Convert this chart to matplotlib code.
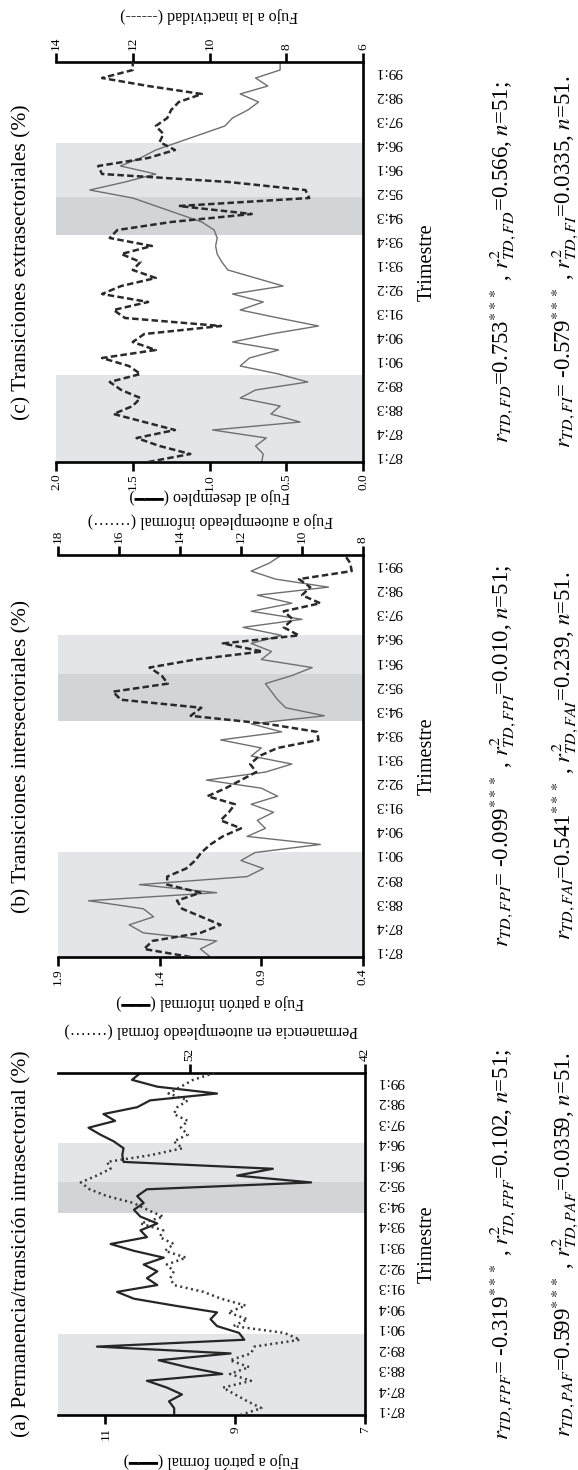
"""Three rotated panels: transiciones laborales por trimestre."""

import matplotlib

matplotlib.use("Agg")
import matplotlib.pyplot as plt
import numpy as np

plt.rcParams["font.family"] = ["Liberation Serif", "DejaVu Sans"]
plt.rcParams["mathtext.fontset"] = "stix"

W, H = 578, 1470

# 51 quarterly observations, 86:4 .. 99:2
quarters = [
    "86:4", "87:1", "87:2", "87:3", "87:4", "88:1", "88:2", "88:3", "88:4",
    "89:1", "89:2", "89:3", "89:4", "90:1", "90:2", "90:3", "90:4", "91:1",
    "91:2", "91:3", "91:4", "92:1", "92:2", "92:3", "92:4", "93:1", "93:2",
    "93:3", "93:4", "94:1", "94:2", "94:3", "94:4", "95:1", "95:2", "95:3",
    "95:4", "96:1", "96:2", "96:3", "96:4", "97:1", "97:2", "97:3", "97:4",
    "98:1", "98:2", "98:3", "98:4", "99:1", "99:2",
]
tick_labels = [
    "87:1", "87:4", "88:3", "89:2", "90:1", "90:4", "91:3", "92:2", "93:1",
    "93:4", "94:3", "95:2", "96:1", "96:4", "97:3", "98:2", "99:1",
]

# (a) permanencia / transicion intrasectorial
a_patron_formal = [
    9.94, 9.94, 10.02, 9.82, 10.05, 10.36, 9.20, 9.74, 10.18, 9.07, 11.13,
    8.86, 8.94, 9.28, 9.38, 9.28, 9.94, 10.56, 10.82, 10.20, 10.36, 10.20,
    10.41, 10.10, 10.56, 10.92, 10.36, 10.46, 10.20, 10.46, 10.56, 10.41,
    10.51, 10.36, 7.83, 8.97, 8.42, 10.72, 10.74, 10.72, 10.87, 11.08, 11.26,
    10.85, 11.03, 10.51, 10.31, 9.28, 10.20, 10.59, 10.46,
]
a_autoempleo_formal = [
    49.1, 47.9, 48.7, 49.4, 50.1, 48.5, 49.7, 48.6, 49.7, 48.5, 48.3, 45.7,
    46.6, 49.5, 48.7, 49.8, 48.8, 50.2, 51.2, 52.9, 53.1, 52.9, 53.3, 52.2,
    53.4, 52.9, 53.7, 53.5, 54.8, 53.5, 54.4, 55.2, 56.7, 57.7, 58.2, 57.3,
    56.5, 56.7, 54.2, 52.4, 52.9, 52.1, 52.5, 52.1, 52.9, 52.7, 52.1, 53.2,
    52.5, 51.8, 50.6,
]

# (b) transiciones intersectoriales
b_patron_informal = [
    1.15, 1.20, 1.12, 1.48, 1.55, 1.43, 1.48, 1.75, 1.12, 1.50, 0.97, 0.89,
    1.00, 0.93, 0.61, 0.97, 0.88, 0.92, 0.84, 0.95, 0.82, 0.90, 1.17, 0.88,
    0.75, 0.95, 0.90, 1.10, 0.80, 0.95, 0.59, 0.78, 0.82, 0.85, 0.88, 0.75,
    0.65, 0.90, 0.85, 0.95, 0.80, 0.99, 0.70, 0.95, 0.75, 0.92, 0.57, 0.83,
    0.95, 0.86, 0.80,
]
b_autoempleo_informal = [
    13.65, 15.18, 14.9, 13.33, 12.67, 13.3, 13.93, 14.1, 13.33, 14.42, 14.42,
    13.8, 13.5, 13.3, 13.0, 12.6, 12.0, 12.67, 12.4, 12.2, 13.1, 12.5, 12.0,
    11.5, 11.7, 11.4, 10.8, 9.46, 9.5, 11.15, 13.65, 13.3, 15.94, 16.2, 14.4,
    14.6, 15.0, 13.5, 11.3, 12.6, 10.1, 10.6, 10.3, 10.6, 9.4, 10.0, 9.73,
    10.1, 8.37, 8.42, 8.6,
]

# (c) transiciones extrasectoriales
c_desempleo = [
    0.66, 0.65, 0.70, 0.63, 0.98, 0.41, 0.60, 0.54, 0.80, 0.70, 0.36, 0.55,
    0.80, 0.74, 0.55, 0.85, 0.60, 0.29, 0.55, 0.80, 0.65, 0.85, 0.52, 0.70,
    0.88, 0.92, 0.95, 0.96, 0.95, 0.97, 1.05, 1.20, 1.35, 1.50, 1.78, 1.55,
    1.35, 1.58, 1.45, 1.35, 1.20, 1.05, 0.90, 0.85, 0.75, 0.68, 0.80, 0.62,
    0.70, 0.54, 0.54,
]
c_inactividad = [
    11.6, 10.5, 11.3, 11.9, 10.9, 11.7, 12.5, 12.0, 11.8, 12.3, 12.6, 11.8,
    12.1, 12.8, 11.4, 12.0, 11.7, 9.7, 12.2, 12.5, 11.6, 12.8, 12.3, 11.4,
    12.0, 11.8, 12.3, 11.5, 12.6, 12.4, 11.0, 8.9, 10.8, 7.4, 7.5, 9.5, 12.8,
    12.9, 11.6, 10.9, 11.3, 11.2, 11.4, 11.1, 11.0, 10.8, 10.2, 11.6, 12.8,
    12.0, 12.0,
]

# shaded periods, in quarter-index units (0 = 86:4)
a_light = [(0, 11.8), (34.0, 39.75)]
a_dark = [(29.5, 34.0)]
b_light = [(0, 13.0), (35.2, 40.0)]
b_dark = [(29.3, 35.2)]
c_light = [(0, 10.9), (33.1, 39.9)]
c_dark = [(28.4, 33.1)]

a_eq = [
    r"$r_{TD,FPF}$= -0.319$^{***}$ , $r^{2}_{TD,FPF}$=0.102, $n$=51;",
    r"$r_{TD,PAF}$=0.599$^{***}$ , $r^{2}_{TD,PAF}$=0.0359, $n$=51.",
]
b_eq = [
    r"$r_{TD,FPI}$= -0.099$^{***}$ , $r^{2}_{TD,FPI}$=0.010, $n$=51;",
    r"$r_{TD,FAI}$=0.541$^{***}$ , $r^{2}_{TD,FAI}$=0.239, $n$=51.",
]
c_eq = [
    r"$r_{TD,FD}$=0.753$^{***}$ , $r^{2}_{TD,FD}$=0.566, $n$=51;",
    r"$r_{TD,FI}$= -0.579$^{***}$ , $r^{2}_{TD,FI}$=0.0335, $n$=51.",
]

LIGHT = "#e4e5e7"
DARK = "#d3d4d6"
SOLID_LABEL = "(\u2501\u2501\u2501)"
DOT_LABEL = "(\u00b7\u00b7\u00b7\u00b7\u00b7\u00b7\u00b7)"
DASH_LABEL = "(------)"


def fx(x):
    return x / W


def fy(y):
    return 1 - y / H


def draw_panel(fig, box, title, left, right, light, dark, eqs):
    x0, y0, x1, y1 = box
    ax = fig.add_axes([fx(x0), fy(y1), (x1 - x0) / W, (y1 - y0) / H])
    t = np.arange(len(quarters))

    for s, e in light:
        ax.axhspan(s, e, color=LIGHT, lw=0, zorder=0)
    for s, e in dark:
        ax.axhspan(s, e, color=DARK, lw=0, zorder=0)

    ax.plot(left["values"], t, color=left["color"], lw=left["lw"], ls=left["ls"], zorder=2)
    ax.set_xlim(left["lim"][1], left["lim"][0])
    ax.set_ylim(0, len(quarters) - 1)
    ax.set_xticks(left["ticks"])
    ax.set_xticklabels(left["ticklabels"])

    ax2 = ax.twiny()
    ax2.plot(right["values"], t, color=right["color"], lw=right["lw"], ls=right["ls"], zorder=2)
    ax2.set_xlim(right["lim"][1], right["lim"][0])
    ax2.set_xticks(right["ticks"])
    ax2.set_xticklabels([str(v) for v in right["ticks"]])

    ax.yaxis.tick_right()
    ax.set_yticks([quarters.index(q) for q in tick_labels])
    ax.set_yticklabels(tick_labels)
    ax.tick_params(axis="y", length=0, pad=9, labelsize=11, labelrotation=180)

    for a in (ax, ax2):
        a.tick_params(axis="x", direction="out", length=6.5, width=1.9,
                      labelsize=9.5, labelrotation=90, pad=2)
        for sp in a.spines.values():
            sp.set_visible(False)
    for side in ("bottom", "top", "right"):
        ax.spines[side].set_visible(True)
        ax.spines[side].set_linewidth(1.9)

    cy = (y0 + y1) / 2
    cx = (x0 + x1) / 2
    fig.text(fx(22), fy(cy), title, rotation=90, ha="center", va="center", fontsize=15.5)
    fig.text(fx(cx), fy(left["label_y"]), left["label"], rotation=180,
             ha="center", va="center", fontsize=11.5)
    fig.text(fx(cx), fy(right["label_y"]), right["label"], rotation=180,
             ha="center", va="center", fontsize=11.5)
    fig.text(fx(427), fy(cy), "Trimestre", rotation=90, ha="center", va="center", fontsize=14.5)
    fig.text(fx(503), fy(cy), eqs[0], rotation=90, ha="center", va="center", fontsize=16.5)
    fig.text(fx(565), fy(cy), eqs[1], rotation=90, ha="center", va="center", fontsize=16.5)


fig = plt.figure(figsize=(W / 100, H / 100), dpi=100)

draw_panel(
    fig, (56, 62, 363, 462), "(c) Transiciones extrasectoriales (%)",
    dict(values=c_desempleo, lim=(0.0, 2.0), ticks=[2.0, 1.5, 1.0, 0.5, 0.0],
         ticklabels=["2.0", "1.5", "1.0", "0.5", "0.0"], color="#6f6f6f", lw=1.0, ls="-",
         label="Fujo al desempleo " + SOLID_LABEL, label_y=496),
    dict(values=c_inactividad, lim=(6, 14), ticks=[14, 12, 10, 8, 6], color="#2a2a2a",
         lw=1.8, ls=(0, (2.6, 1.3)), label="Fujo a la inactividad " + DASH_LABEL, label_y=15),
    c_light, c_dark, c_eq,
)

draw_panel(
    fig, (58, 555, 363, 957), "(b) Transiciones intersectoriales (%)",
    dict(values=b_patron_informal, lim=(0.4, 1.9), ticks=[1.9, 1.4, 0.9, 0.4],
         ticklabels=["1.9", "1.4", "0.9", "0.4"], color="#6f6f6f", lw=1.0, ls="-",
         label="Fujo a patrón informal " + SOLID_LABEL, label_y=1002),
    dict(values=b_autoempleo_informal, lim=(8, 18), ticks=[18, 16, 14, 12, 10, 8],
         color="#2a2a2a", lw=1.8, ls=(0, (2.6, 1.3)),
         label="Fujo a autoempleado informal " + DOT_LABEL, label_y=520),
    b_light, b_dark, b_eq,
)

draw_panel(
    fig, (58, 1073, 365, 1415), "(a) Permanencia/transición intrasectorial (%)",
    dict(values=a_patron_formal, lim=(7, 11.73), ticks=[11, 9, 7],
         ticklabels=["11", "9", "7"], color="#262626", lw=1.6, ls="-",
         label="Fujo a patrón formal " + SOLID_LABEL, label_y=1460),
    dict(values=a_autoempleo_formal, lim=(42, 59.5), ticks=[52, 42], color="#3a3a3a",
         lw=1.8, ls=(0, (0.8, 1.4)),
         label="Permanencia en autoempleado formal " + DOT_LABEL, label_y=1030),
    a_light, a_dark, a_eq,
)

fig.savefig("out.png", dpi=100)
